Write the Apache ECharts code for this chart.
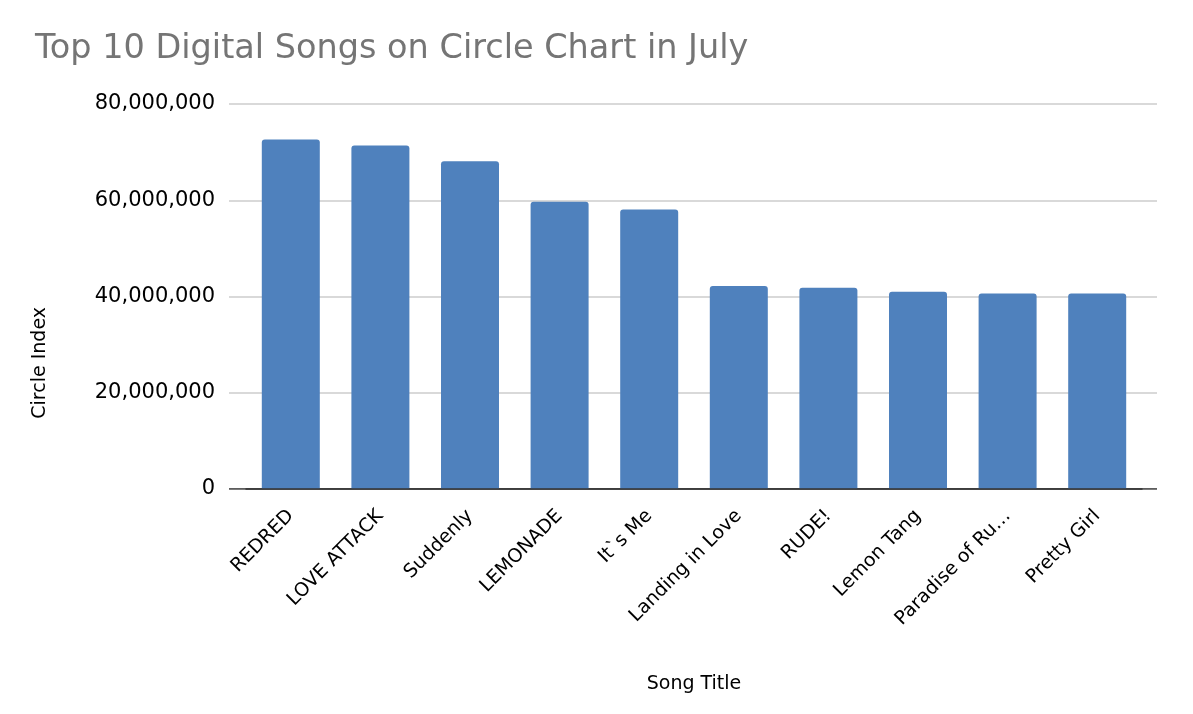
<!DOCTYPE html>
<html>
<head>
    <meta charset="utf-8">
    <title>Circle Chart July</title>
    <script src="https://cdn.jsdelivr.net/npm/echarts@6/dist/echarts.min.js"></script>
    <style>
        html, body { margin: 0; padding: 0; background: #fff; }
        #main { width: 1193px; height: 714px; }
    </style>
</head>
<body>
    <div id="main"></div>
    <script type="text/javascript">
        // data
        var songs = ['REDRED', 'LOVE ATTACK', 'Suddenly', 'LEMONADE', 'It`s Me',
            'Landing in Love', 'RUDE!', 'Lemon Tang', 'Paradise of Ru\u2026', 'Pretty Girl'];
        var circleIndex = [72600000, 71400000, 68100000, 59700000, 58100000,
            42200000, 41800000, 41000000, 40600000, 40600000];
        var yTicks = [0, 20000000, 40000000, 60000000, 80000000];

        var font = 'DejaVu Sans';
        var chart = echarts.init(document.getElementById('main'));

        chart.setOption({
            backgroundColor: '#ffffff',
            animation: false,
            title: {
                text: 'Top 10 Digital Songs on Circle Chart in July',
                left: 30,
                top: 27,
                textStyle: { color: '#757575', fontSize: 33.5, fontWeight: 'normal', fontFamily: font }
            },
            graphic: [{
                type: 'text',
                left: 31,
                top: 307,
                rotation: Math.PI / 2,
                style: { text: 'Circle Index', fontSize: 19, fontFamily: font, fill: '#000' }
            }],
            grid: [
                // wide grid: gridlines, zero line, y labels
                { left: 229, right: 36, top: 104, bottom: 225 },
                // narrower grid: the bars
                { left: 246, right: 51, top: 104, bottom: 225 }
            ],
            xAxis: [
                {
                    gridIndex: 0, type: 'value', min: 0, max: 1,
                    axisLine: { show: false }, axisTick: { show: false },
                    axisLabel: { show: false }, splitLine: { show: false }
                },
                {
                    gridIndex: 1, type: 'category', data: songs,
                    name: 'Song Title', nameLocation: 'middle', nameGap: 186,
                    nameTextStyle: { fontSize: 19, fontFamily: font, color: '#000' },
                    axisLine: { show: true, onZero: false, lineStyle: { color: '#333', width: 1.5 } },
                    axisTick: { show: false },
                    axisLabel: { rotate: 45, interval: 0, fontSize: 19, fontFamily: font, color: '#000', margin: 24 }
                }
            ],
            yAxis: [
                {
                    gridIndex: 0, type: 'value', min: yTicks[0], max: yTicks[yTicks.length - 1], interval: 20000000,
                    axisLine: { show: false }, axisTick: { show: false },
                    axisLabel: {
                        fontSize: 21, fontFamily: font, color: '#000', margin: 14,
                        formatter: function (v) { return v.toLocaleString('en-US'); }
                    },
                    splitLine: { lineStyle: { color: '#cccccc', width: 1.5 } }
                },
                {
                    gridIndex: 1, type: 'value', min: yTicks[0], max: yTicks[yTicks.length - 1],
                    axisLine: { show: false }, axisTick: { show: false },
                    axisLabel: { show: false }, splitLine: { show: false }
                }
            ],
            series: [
                {
                    // zero line across the wide grid
                    type: 'line', xAxisIndex: 0, yAxisIndex: 0,
                    data: [[0, 0], [1, 0]], symbol: 'none', silent: true,
                    lineStyle: { color: '#333', width: 1.5 }
                },
                {
                    type: 'bar', xAxisIndex: 1, yAxisIndex: 1,
                    data: circleIndex, barWidth: 58,
                    itemStyle: { color: '#4f81bd', borderRadius: [3, 3, 0, 0] }
                }
            ]
        });
    </script>
</body>
</html>
